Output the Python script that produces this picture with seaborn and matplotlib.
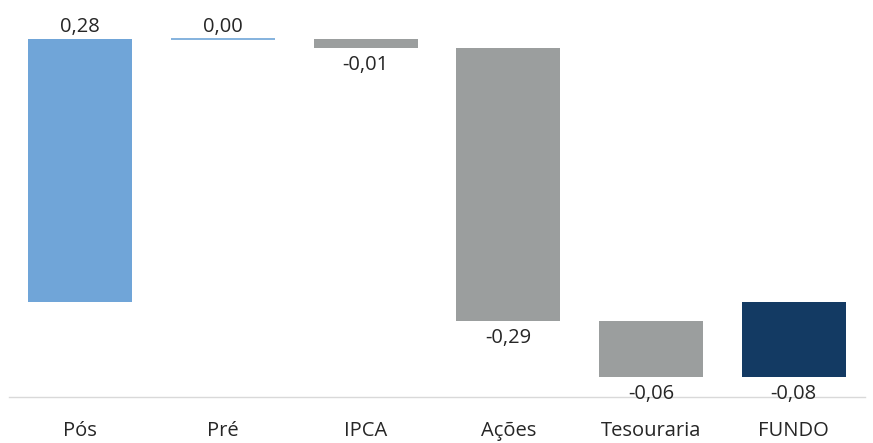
import numpy as np
import pandas as pd
import matplotlib
matplotlib.use("Agg")
import matplotlib.pyplot as plt
import seaborn as sns

# Attribution of the fund's return by strategy (percentage points)
categories = ["Pós", "Pré", "IPCA", "Ações", "Tesouraria", "FUNDO"]
contributions = [0.28, 0.00, -0.01, -0.29, -0.06]
fund_total = -0.08
bar_colors = ["#70A5D8", "#70A5D8", "#9B9E9E", "#9B9E9E", "#9B9E9E", "#133A63"]

# Waterfall: each step floats from the running sum; the total starts at zero
values = contributions + [fund_total]
running = np.concatenate([[0.0], np.cumsum(contributions)[:-1]])
starts = list(running) + [0.0]

df = pd.DataFrame({"categoria": categories, "valor": values, "inicio": starts})

sns.set_theme(style="white")
plt.rcParams["font.family"] = ["Open Sans", "DejaVu Sans"]

fig = plt.figure(figsize=(8.73, 4.43), dpi=100)
ax = fig.add_axes([9 / 873, 46 / 443, 856 / 873, 397 / 443])

sns.barplot(data=df, x="categoria", y="valor", order=categories,
            bottom=df["inicio"].to_numpy(), width=0.73, color=bar_colors[0],
            errorbar=None, ax=ax, linewidth=0)

for patch, col, v in zip(ax.patches, bar_colors, values):
    patch.set_facecolor(col)
    if v == 0:
        patch.set_edgecolor(col)
        patch.set_linewidth(1.2)

ax.set_ylim(-0.101, 0.3213)
ax.set_xlim(-0.5, len(categories) - 0.5)

text_color = "#262626"
fs = 14.5
for i, (v, s) in enumerate(zip(values, starts)):
    label = f"{v:.2f}".replace(".", ",")
    end = s + v
    if v >= 0:
        ax.annotate(label, (i, end), xytext=(0, 1), textcoords="offset points",
                    ha="center", va="bottom", fontsize=fs, color=text_color)
    else:
        ax.annotate(label, (i, end), xytext=(0, -5), textcoords="offset points",
                    ha="center", va="top", fontsize=fs, color=text_color)

for side in ["top", "left", "right"]:
    ax.spines[side].set_visible(False)
ax.spines["bottom"].set_color("#D9D9D9")
ax.spines["bottom"].set_linewidth(1.0)
ax.set_yticks([])
ax.set_xlabel("")
ax.set_ylabel("")
ax.tick_params(axis="x", length=0, pad=17, labelsize=fs, labelcolor=text_color)

fig.savefig("out.png", dpi=100, facecolor="white")
